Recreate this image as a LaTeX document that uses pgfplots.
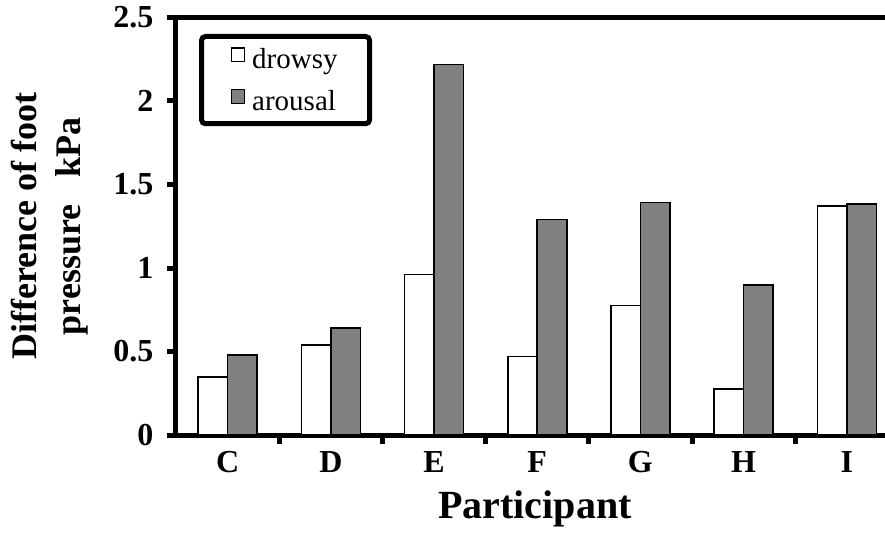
\documentclass[border=0pt]{standalone}
\usepackage{fontspec}
\setmainfont{Liberation Serif}
\usepackage{pgfplots}
\pgfplotsset{compat=1.18}
\definecolor{bargray}{HTML}{808080}
\begin{document}
\begin{tikzpicture}[x=1pt,y=1pt]
\begin{axis}[
  at={(0pt,0pt)}, anchor=south west,
  scale only axis, width=708pt, height=417.5pt,
  ybar=0pt, bar width=29.5pt,
  xmin=-0.5, xmax=6.36, ymin=0, ymax=2.5,
  axis x line*=box, axis y line*=left,
  axis line style={line width=5pt, line cap=rect},
  xtick={0,1,2,3,4,5,6},
  xticklabels={C,D,E,F,G,H,I},
  minor xtick={0.5,1.5,2.5,3.5,4.5,5.5},
  xtick pos=left,
  major x tick style={draw=none},
  ytick={0,0.5,1,1.5,2,2.5},
  yticklabels={0,0.5,1,1.5,2,2.5},
  tick align=outside,
  major tick length=9pt, minor tick length=9pt,
  tick style={line width=5pt, black},
  ticklabel style={font=\bfseries\fontsize{32}{34}\selectfont},
  yticklabel style={xshift=-10pt},
  xticklabel style={yshift=-4pt},
  every axis y label/.style={at={(axis description cs:-0.178,0.5)}, rotate=90, anchor=center,
    align=center, font=\bfseries\fontsize{36}{44}\selectfont},
  ylabel={Difference of foot\\pressure~~~kPa},
  every axis x label/.style={at={(axis description cs:0.507,-0.2)}, anchor=base,
    font=\bfseries\fontsize{40}{44}\selectfont},
  xlabel={Participant},
  legend style={at={(axis description cs:0.0325,0.9605)}, anchor=north west,
    line width=5pt, rounded corners=4pt, draw=black,
    font=\fontsize{29}{32}\selectfont, inner xsep=29pt, inner ysep=9pt,
    row sep=14pt, nodes={inner sep=3pt},
    /tikz/every odd column/.append style={column sep=4pt}},
  legend cell align=left,
  legend image code/.code={\draw[#1, sharp corners, line width=1.2pt, yshift=-0.22em] (0pt,0pt) rectangle (13.5pt,13.5pt);},
]
\addplot[draw=black, line width=1.6pt, fill=white] coordinates {
  (0,0.346) (1,0.54) (2,0.96) (3,0.47) (4,0.775) (5,0.274) (6,1.371)};
\addplot[draw=black, line width=1.6pt, fill=bargray] coordinates {
  (0,0.48) (1,0.64) (2,2.218) (3,1.29) (4,1.393) (5,0.90) (6,1.383)};
\legend{drowsy,arousal}
\end{axis}
\pgfresetboundingbox
\path[use as bounding box] (-176pt,-98pt) rectangle (709pt,435pt);
\end{tikzpicture}
\end{document}
